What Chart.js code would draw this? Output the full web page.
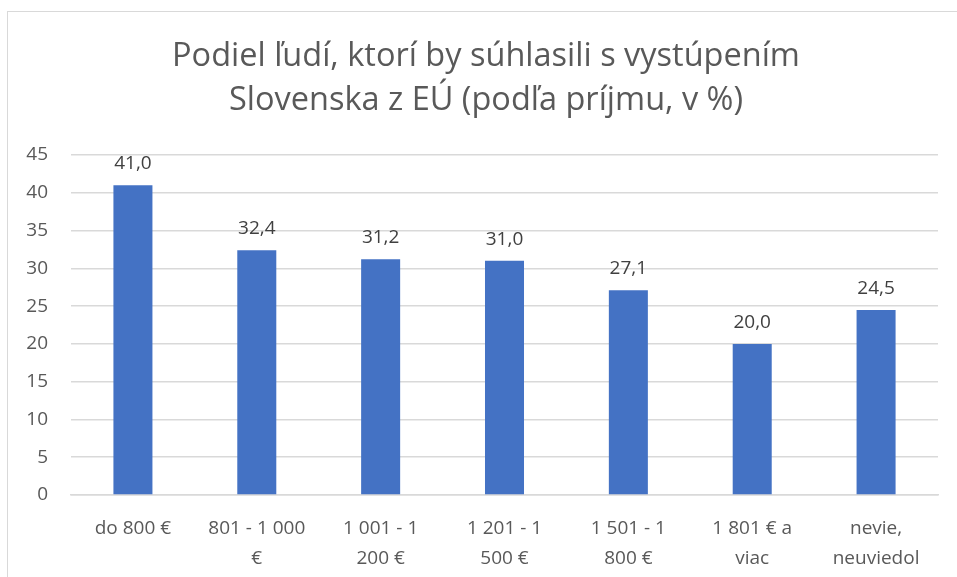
<!DOCTYPE html>
<html>
<head>
  <title>Podiel ľudí podľa príjmu</title>
  <script src="https://cdn.jsdelivr.net/npm/chart.js@4.4.0/dist/chart.umd.min.js"></script>
  <style>
    body { margin: 0; background: #fff; overflow: hidden; }
    .frame { position: absolute; left: 7px; top: 11px; width: 980px; height: 600px; border: 1px solid #d9d9d9; }
    .chart-container { position: absolute; left: 0; top: 0; width: 957px; height: 577px; }
  </style>
</head>
<body>
  <div class="frame"></div>
  <div class="chart-container">
    <canvas id="incomeChart"></canvas>
  </div>

  <script>
    // categories (income bands) and share of people in %
    const categories = [
      ['do 800 €'],
      ['801 - 1 000', '€'],
      ['1 001 - 1', '200 €'],
      ['1 201 - 1', '500 €'],
      ['1 501 - 1', '800 €'],
      ['1 801 € a', 'viac'],
      ['nevie,', 'neuviedol']
    ];
    const values = [41.0, 32.4, 31.2, 31.0, 27.1, 20.0, 24.5];
    const titleLines = ['Podiel ľudí, ktorí by súhlasili s vystúpením', 'Slovenska z EÚ (podľa príjmu, v %)'];

    const fontFamily = "'Open Sans', 'Noto Sans', sans-serif";

    // title centred on the chart frame (not on the canvas)
    const frameTitle = {
      id: 'frameTitle',
      afterDraw(chart) {
        const ctx = chart.ctx;
        ctx.save();
        ctx.fillStyle = '#595959';
        ctx.font = '32.5px ' + fontFamily;
        ctx.textAlign = 'center';
        ctx.textBaseline = 'middle';
        titleLines.forEach((line, i) => ctx.fillText(line, 486, 57 + i * 44));
        ctx.restore();
      }
    };

    // draw values above bars
    const valueLabels = {
      id: 'valueLabels',
      afterDatasetsDraw(chart) {
        const ctx = chart.ctx;
        const meta = chart.getDatasetMeta(0);
        ctx.save();
        ctx.fillStyle = '#404040';
        ctx.font = '19px ' + fontFamily;
        ctx.textAlign = 'center';
        ctx.textBaseline = 'bottom';
        meta.data.forEach((bar, i) => {
          ctx.fillText(values[i].toFixed(1).replace('.', ','), bar.x, bar.y - 12);
        });
        ctx.restore();
      }
    };

    const ctx = document.getElementById('incomeChart').getContext('2d');
    new Chart(ctx, {
      type: 'bar',
      data: {
        labels: categories,
        datasets: [{
          data: values,
          backgroundColor: '#4472c4',
          categoryPercentage: 1,
          barPercentage: 0.315
        }]
      },
      options: {
        responsive: true,
        maintainAspectRatio: false,
        animation: false,
        layout: { padding: { left: 0, right: 19, top: 155, bottom: 0 } },
        plugins: {
          legend: { display: false },
          tooltip: { enabled: false },
          title: { display: false }
        },
        scales: {
          x: {
            grid: { display: false },
            border: { display: true, color: '#d9d9d9', width: 1.5 },
            ticks: {
              color: '#595959',
              font: { family: fontFamily, size: 19, lineHeight: 1.55 },
              maxRotation: 0,
              padding: 11
            },
            afterFit(scale) { scale.height = 82; }
          },
          y: {
            min: 0,
            max: 45,
            ticks: {
              stepSize: 5,
              color: '#595959',
              font: { family: fontFamily, size: 19 },
              padding: 23
            },
            grid: { color: '#d9d9d9', lineWidth: 1.5, drawTicks: false },
            border: { display: false },
            afterFit(scale) { scale.width = 71; }
          }
        }
      },
      plugins: [valueLabels, frameTitle]
    });
  </script>
</body>
</html>
